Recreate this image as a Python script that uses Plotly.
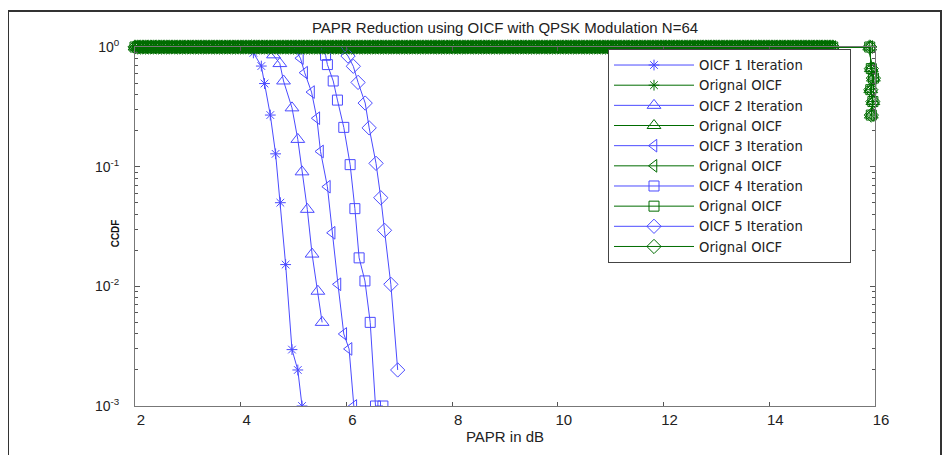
import plotly.graph_objects as go

# ---------------- data ----------------
title = "PAPR Reduction using OICF with QPSK Modulation N=64"
x_title = "PAPR in dB"
y_title = "CCDF"

x_ticks = [2, 4, 6, 8, 10, 12, 14, 16]
y_tickvals = [1e-3, 1e-2, 1e-1, 1]
y_ticktext = ["10<sup>-3</sup>", "10<sup>-2</sup>", "10<sup>-1</sup>", "10<sup>0</sup>"]

names = ["OICF 1 Iteration", "Orignal OICF", "OICF 2 Iteration", "Orignal OICF",
         "OICF 3 Iteration", "Orignal OICF", "OICF 4 Iteration", "Orignal OICF",
         "OICF 5 Iteration", "Orignal OICF"]

it1_x = [4.1, 4.24, 4.39, 4.45, 4.56, 4.66, 4.75, 4.85, 4.97, 5.08, 5.16]
it1_y = [1.0, 0.893, 0.693, 0.495, 0.270, 0.128, 0.050, 0.0152, 0.00296, 0.0020, 0.001]

it2_x = [4.5, 4.62, 4.74, 4.81, 4.97, 5.08, 5.16, 5.26, 5.35, 5.46, 5.54]
it2_y = [1.0, 0.86, 0.727, 0.52, 0.31, 0.169, 0.0905, 0.044, 0.0186, 0.0091, 0.005]

it3_x = [5.0, 5.13, 5.21, 5.34, 5.44, 5.51, 5.64, 5.73, 5.84, 5.95, 6.05, 6.14]
it3_y = [1.0, 0.806, 0.61, 0.42, 0.254, 0.134, 0.068, 0.028, 0.0104, 0.004, 0.003, 0.001]

it4_x = [5.5, 5.605, 5.64, 5.75, 5.83, 5.95, 6.07, 6.16, 6.24, 6.35, 6.45, 6.55, 6.69]
it4_y = [1.0, 0.853, 0.713, 0.52, 0.36, 0.213, 0.104, 0.0446, 0.0173, 0.0111, 0.005, 0.001, 0.001]

it5_x = [5.9, 6.03, 6.13, 6.22, 6.355, 6.43, 6.56, 6.65, 6.72, 6.84, 6.97]
it5_y = [1.0, 0.84, 0.69, 0.506, 0.34, 0.211, 0.1066, 0.055, 0.0294, 0.0104, 0.002]

# original OICF: CCDF stays at 1 over the PAPR grid, drops only at the right edge
orig_grid = [round(2 + 0.05 * i, 2) for i in range(265)]   # 2.00 ... 15.20
orig_flat = [1.0 for _ in orig_grid]
orig_tail_x = [15.9, 15.93, 15.97, 15.92, 15.96, 15.93]
orig_tail_y = [1.0, 0.66, 0.55, 0.44, 0.35, 0.27]
orig_x = orig_grid + orig_tail_x
orig_y = orig_flat + orig_tail_y

iter_x = [it1_x, it2_x, it3_x, it4_x, it5_x]
iter_y = [it1_y, it2_y, it3_y, it4_y, it5_y]
symbols = ["asterisk-open", "triangle-up-open", "triangle-left-open", "square-open", "diamond-open"]
sizes = [9, 12, 11, 10, 11]

BLUE = "rgb(75,75,255)"
GREEN = "rgb(0,108,0)"
PAD = "\u00a0" * 10   # widen the legend box like the reference

fig = go.Figure()
for k in range(5):
    fig.add_trace(go.Scatter(
        x=iter_x[k], y=iter_y[k], mode="lines+markers", name=names[2 * k] + PAD,
        line=dict(color=BLUE, width=1),
        marker=dict(symbol=symbols[k], size=sizes[k], color=BLUE, line=dict(width=1, color=BLUE)),
    ))
    fig.add_trace(go.Scatter(
        x=orig_x, y=orig_y, mode="lines+markers", name=names[2 * k + 1],
        line=dict(color=GREEN, width=1),
        marker=dict(symbol=symbols[k], size=sizes[k], color=GREEN, line=dict(width=1, color=GREEN)),
        cliponaxis=False,
    ))

# page body has an 8px margin: the figure is placed at (8, 8) on screen
OFF = 8
W, H = 942, 447
L = 135 - OFF
T = 47 - OFF
R = W - (875 - OFF)
B = H - (415 - OFF)
pw, ph = W - L - R, H - T - B

def px2paper(px, py):
    # px, py are screen pixels
    return (px - OFF - L) / pw, (H - B - (py - OFF)) / ph

fx0, fy0 = px2paper(8, 10)
fx1, fy1 = px2paper(941, 470)
lgx, lgy = px2paper(608, 49)
ylx, yly = px2paper(115, 238)

fig.update_layout(
    width=W, height=H,
    margin=dict(l=L, r=R, t=T, b=B),
    paper_bgcolor="white", plot_bgcolor="white",
    font=dict(family="Arial", size=13, color="#222"),
    title=dict(text=title, x=0.5, xref="paper", y=1 - (28 - OFF) / H, yanchor="middle",
               font=dict(family="Arial", size=15, color="#222")),
    showlegend=True,
    legend=dict(x=lgx, y=lgy, xanchor="left", yanchor="top",
                bgcolor="white", bordercolor="#444", borderwidth=1,
                font=dict(family="DejaVu Sans", size=13.2, color="#222"),
                itemwidth=80, tracegroupgap=0),
    shapes=[dict(type="rect", xref="paper", yref="paper", x0=fx0, y0=fy1, x1=fx1, y1=fy0,
                 line=dict(color="#333", width=2), fillcolor="rgba(0,0,0,0)", layer="below")],
    annotations=[dict(text="<b>" + y_title + "</b>", xref="paper", yref="paper", x=ylx, y=yly,
                      textangle=-90, showarrow=False, xanchor="center", yanchor="middle",
                      font=dict(family="Arial", size=10, color="#111"))],
)
fig.update_xaxes(range=[2, 16], tickvals=x_ticks, ticks="inside", ticklen=4, tickcolor="#555",
                 ticklabelshift=6,
                 showline=True, linecolor="#777", linewidth=1, mirror="ticks", showgrid=False,
                 zeroline=False, tickfont=dict(size=15, color="#222"),
                 title=dict(text=x_title, font=dict(size=15, color="#222"), standoff=4))
fig.update_yaxes(type="log", range=[-3, 0], tickvals=y_tickvals, ticktext=y_ticktext,
                 ticks="inside", ticklen=5, tickcolor="#555", ticklabelstandoff=12,
                 minor=dict(ticks="inside", ticklen=3, tickcolor="#555", dtick="D1", showgrid=False),
                 showline=True, linecolor="#777", linewidth=1, mirror="ticks", showgrid=False,
                 zeroline=False, tickfont=dict(size=14, color="#222"))

fig.write_html("out.html")
